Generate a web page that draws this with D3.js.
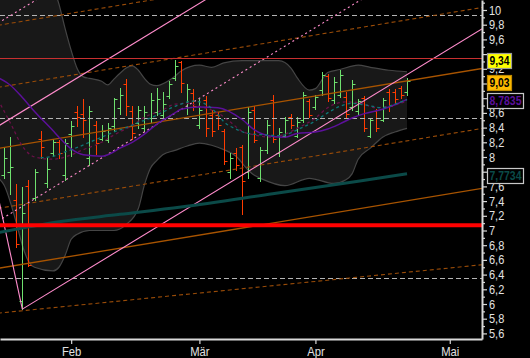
<!DOCTYPE html>
<html><head><meta charset="utf-8">
<script src="https://cdn.jsdelivr.net/npm/d3@7"></script>
<style>body{margin:0;background:#000}svg{display:block}</style>
</head><body>
<svg id="c" width="530" height="358"></svg>
<script>
// ---- OHLC data (trading-day index 0..66) ----
const opens  = [7.75,7.79,7.41,6.04,7.61,7.44,8.25,7.64,8.05,8.21,7.75,8.31,8.61,8.58,7.98,8.43,8.25,8.23,8.42,8.66,8.99,8.62,8.46,8.39,8.53,8.61,8.57,8.83,9.07,9.29,8.66,8.87,8.43,8.77,8.57,8.57,8.36,7.79,8.06,8.13,7.79,8.64,7.71,8.09,8.77,8.06,8.29,8.55,8.29,8.50,8.76,8.68,8.91,9.10,8.77,8.85,8.81,8.68,8.62,8.80,8.29,8.62,8.51,8.88,8.89,8.94,8.88];
const highs  = [8.12,8.27,7.63,7.59,7.69,7.83,8.35,7.98,8.25,8.23,8.25,8.49,8.69,8.79,8.69,8.49,8.43,8.46,8.80,8.94,9.06,8.70,8.69,8.70,8.87,8.94,8.88,9.03,9.32,9.30,8.99,8.92,8.79,8.83,8.64,8.61,8.38,8.05,8.12,8.17,8.68,8.70,8.13,8.50,8.84,8.39,8.54,8.58,8.54,8.88,8.79,8.85,9.15,9.13,9.09,9.18,8.88,9.05,8.79,8.83,8.53,8.65,8.80,8.92,8.92,8.96,9.07];
const lows   = [7.71,7.50,6.78,5.93,6.52,7.41,7.99,7.59,8.01,7.99,7.69,8.01,8.42,8.27,7.89,8.04,8.23,8.20,8.36,8.59,8.57,8.25,8.40,8.35,8.47,8.57,8.53,8.80,9.05,8.89,8.59,8.64,8.39,8.29,8.29,8.38,7.91,7.72,7.82,7.23,7.71,8.20,7.68,8.05,8.20,8.02,8.27,8.39,8.27,8.47,8.54,8.65,8.85,8.76,8.73,8.81,8.54,8.64,8.59,8.36,8.27,8.36,8.49,8.62,8.74,8.80,8.85];
const closes = [7.98,7.86,6.82,7.24,6.53,7.79,8.14,7.83,8.20,8.06,8.19,8.42,8.55,8.51,8.62,8.19,8.36,8.39,8.79,8.85,8.70,8.32,8.64,8.61,8.77,8.79,8.72,8.99,9.24,9.00,8.92,8.70,8.64,8.39,8.36,8.43,7.95,7.98,7.89,7.68,8.61,8.23,8.09,8.43,8.25,8.34,8.50,8.43,8.47,8.84,8.57,8.81,9.11,8.80,9.02,9.11,8.59,8.99,8.76,8.40,8.50,8.40,8.77,8.69,8.79,8.84,9.03];

// ---- Bollinger-type band (day index, value) ----
const upperIdx = [-1,2,5,7,9,10,11,12,13,14,16,17,18,19,20,21,22,23,24,25,27,28,29,32,34,36,39,45,47,48,50,51,53,55,58,60,63,66];
const upperVal = [11.2,11.2,10.9,10.5,10.08,9.75,9.45,9.20,9.09,9.07,9.03,8.98,9.06,9.14,9.21,9.24,9.18,9.07,8.99,8.97,9.04,9.10,9.17,9.25,9.22,9.28,9.31,9.31,9.21,9.08,8.91,8.93,9.15,9.19,9.25,9.22,9.18,9.16];
const lowerIdx = [-1,0,2,3,4,5,8,9,10,11,12,14,18,20,22,23,24,25,26,28,30,32,34,36,38,40,41,42,46,50,54,56,57,58,60,62,64,66];
const lowerVal = [7.72,7.62,7.11,6.80,6.58,6.50,6.45,6.50,6.66,6.88,6.95,7.00,7.00,7.08,7.30,7.62,7.85,7.95,8.03,8.09,8.15,8.19,8.16,8.10,8.01,7.82,7.75,7.71,7.61,7.71,7.64,7.69,7.77,7.97,8.12,8.27,8.34,8.39];

// ---- moving averages ----
const purpleIdx = [-1,1,3,5,8,9,11,13,16,17,19,21,23,24,26,28,29,32,35,39,41,44,46,48,51,53,55,57,59,62,64,66];
const purpleVal = [9.08,8.98,8.81,8.62,8.36,8.27,8.11,8.03,8.01,8.03,8.12,8.20,8.31,8.38,8.50,8.60,8.65,8.68,8.67,8.51,8.37,8.28,8.27,8.32,8.34,8.38,8.45,8.53,8.59,8.65,8.71,8.7835];
const tealIdx = [6,8,10,12,14,16,18,20,22,24,26,28,29,31,33,35,36,38,40,43,45,47,48,51,53,55,57,59,62,64,66];
const tealVal = [7.99,8.01,8.07,8.13,8.20,8.27,8.34,8.40,8.47,8.53,8.61,8.69,8.72,8.76,8.72,8.58,8.48,8.38,8.32,8.30,8.29,8.33,8.37,8.49,8.60,8.69,8.73,8.71,8.67,8.72,8.78];
const maroonIdx = [-1,1,3,5,8,10,13,16,18,21,23,26,28,30,32,35,37,39,41,44,46,48,51,53,56,58,61,63,66];
const maroonVal = [8.78,8.47,8.15,8.00,7.97,8.00,8.10,8.20,8.30,8.43,8.54,8.64,8.72,8.73,8.69,8.60,8.48,8.35,8.30,8.27,8.31,8.39,8.53,8.67,8.75,8.74,8.67,8.69,8.76];
const longIdx = [-1,9,19,29,44,58,66];
const longVal = [6.97,7.12,7.22,7.32,7.50,7.67,7.7734];

// ---- drawn lines: [startIdx, startVal, endIdx, endVal] ----
const pinkSolid  = [[3,5.93,79,9.781],[-1,8.418,40,10.495],[-3,8.25,3,5.93]];
const pinkDashed = [[-1,7.126,79,11.18],[-1,9.82,10,10.377]];
const brownSolid = [[-1,8.117,79,9.214],[-1,6.485,79,7.582]];
const brownDashed= [[-1,8.947,79,10.044],[-1,9.791,79,10.888],[-1,7.301,79,8.398],[-1,5.875,79,6.540]];
const grayLevels = [9.93,8.53,6.35];
const redThick = 7.07;
const redThin = 9.34;

// ---- axes ----
const yTicks = [5.6,5.8,6,6.2,6.4,6.6,6.8,7,7.2,7.4,7.6,7.8,8,8.2,8.4,8.6,8.8,9,9.2,9.4,9.6,9.8,10];
const yMinor = [5.7,5.9,6.1,6.3,6.5,6.7,6.9,7.1,7.3,7.5,7.7,7.9,8.1,8.3,8.5,8.7,8.9,9.1,9.3,9.5,9.7,9.9,10.1];
const monthIdx = [11,32,51,73];
const monthLabels = ["Feb","Mär","Apr","Mai"];

// ================= drawing =================
const W=530,H=358,PW=482,PH=339;
const svg=d3.select("#c");
svg.append("rect").attr("width",W).attr("height",H).attr("fill","#000");
const x=d3.scaleLinear().domain([-0.655,78.28]).range([0,PW]);
const y=d3.scaleLinear().domain([5.5238,10.136]).range([PH,0]);
svg.append("defs").append("clipPath").attr("id","clip").append("rect").attr("width",PW).attr("height",PH);
const plot=svg.append("g").attr("clip-path","url(#clip)");

const zip=(a,b)=>a.map((d,i)=>[d,b[i]]);
const up=zip(upperIdx,upperVal), lo=zip(lowerIdx,lowerVal);
const areaTo=d3.area().x(d=>x(d[0])).y0(PH).y1(d=>y(d[1])).curve(d3.curveMonotoneX);
const curve=d3.line().x(d=>x(d[0])).y(d=>y(d[1])).curve(d3.curveMonotoneX);
plot.append("path").attr("d",areaTo(up)).attr("fill","#181818");
plot.append("path").attr("d",areaTo(lo)).attr("fill","#000");
[up,lo].forEach(s=>plot.append("path").attr("d",curve(s)).attr("fill","none").attr("stroke","#454545").attr("stroke-width",1.2));

// bars
const bars=opens.map((o,i)=>({i,o,h:highs[i],l:lows[i],c:closes[i]}));
const px=i=>Math.round(x(i))+0.5, py=v=>Math.round(y(v))+0.5;
const bg=plot.append("g").selectAll("g").data(bars).join("g")
  .attr("stroke",d=>d.c>=d.o?"#6ee06e":"#ff3c00").attr("stroke-width",1);
bg.append("line").attr("x1",d=>px(d.i)).attr("x2",d=>px(d.i)).attr("y1",d=>Math.round(y(d.h))).attr("y2",d=>Math.round(y(d.l))+1);
bg.append("line").attr("x1",d=>px(d.i)-3).attr("x2",d=>px(d.i)).attr("y1",d=>py(d.o)).attr("y2",d=>py(d.o));
bg.append("line").attr("x1",d=>px(d.i)).attr("x2",d=>px(d.i)+3).attr("y1",d=>py(d.c)).attr("y2",d=>py(d.c));

// horizontal gray dashed
grayLevels.forEach(v=>plot.append("line").attr("x1",0).attr("x2",PW).attr("y1",py(v)).attr("y2",py(v))
  .attr("stroke","#b4b4b4").attr("stroke-dasharray","5,3"));

const seg=(arr,color,dash,w)=>arr.forEach(s=>plot.append("line")
  .attr("x1",x(s[0])).attr("y1",y(s[1])).attr("x2",x(s[2])).attr("y2",y(s[3]))
  .attr("stroke",color).attr("stroke-width",w).attr("stroke-dasharray",dash));
seg(brownDashed,"#9a4c08","4,3",1.1);
seg(brownSolid,"#a85400",null,1.3);
seg(pinkDashed,"#ff8ccc","2,3",1.1);
seg(pinkSolid,"#ff8ccc",null,1.1);

// moving averages
plot.append("path").attr("d",curve(zip(longIdx,longVal))).attr("fill","none").attr("stroke","#0b4a48").attr("stroke-width",3);
plot.append("path").attr("d",curve(zip(maroonIdx,maroonVal))).attr("fill","none").attr("stroke","#6a1048").attr("stroke-width",1.3).attr("stroke-dasharray","3,3");
plot.append("path").attr("d",curve(zip(purpleIdx,purpleVal))).attr("fill","none").attr("stroke","#5c109a").attr("stroke-width",1.5);
plot.append("path").attr("d",curve(zip(tealIdx,tealVal))).attr("fill","none").attr("stroke","#0f7575").attr("stroke-width",1.3).attr("stroke-dasharray","3,3");

// red lines
plot.append("line").attr("x1",0).attr("x2",PW).attr("y1",y(redThin)).attr("y2",y(redThin)).attr("stroke","#c83030").attr("stroke-width",1.2);
plot.append("line").attr("x1",0).attr("x2",PW).attr("y1",y(redThick)).attr("y2",y(redThick)).attr("stroke","#ff0000").attr("stroke-width",4);

// right-hand value markers (values)
const markers=[
  {v:redThin, fill:"#ffff00", stroke:"#9a9a9a", color:"#000"},
  {v:closes[closes.length-1], fill:"#ffbc00", stroke:"#c08a00", color:"#000"},
  {v:purpleVal[purpleVal.length-1], fill:"#000", stroke:"#c8c8c8", color:"#5c109a"},
  {v:longVal[longVal.length-1], fill:"#000", stroke:"#c8c8c8", color:"#0b4a48"}
];

// axes
const locale=d3.formatLocale({decimal:",",thousands:".",grouping:[3],currency:["","€"]});
const fmt=locale.format(".2~f");
// tick labels covered by a value marker are not shown (as in the reference)
const covered=t=>markers.some(m=>Math.abs(y(m.v)+1-y(t))<8);
const ya=svg.append("g").attr("transform",`translate(${PW},0)`)
  .call(d3.axisRight(y).tickValues(yTicks).tickSize(5).tickPadding(2).tickSizeOuter(0).tickFormat(t=>covered(t)?"":fmt(t)));
const ym=svg.append("g").attr("transform",`translate(${PW},0)`)
  .call(d3.axisRight(y).tickValues(yMinor).tickSize(3).tickSizeOuter(0).tickFormat(""));
ym.select(".domain").remove();
const xa=svg.append("g").attr("transform",`translate(0,${PH})`)
  .call(d3.axisBottom(x).tickValues(monthIdx).tickSize(5).tickPadding(3).tickSizeOuter(0).tickFormat((d,i)=>monthLabels[i]));
[ya,ym,xa].forEach(a=>{a.selectAll(".domain").attr("stroke","#d8d8d8").attr("stroke-width",2);
  a.selectAll(".tick line").attr("stroke","#d8d8d8").attr("stroke-width",1.2);
  a.selectAll("text").attr("fill","#e2e2e2").style("font-family","'Liberation Sans',Arial,sans-serif").style("font-size","12.5px");});
ya.selectAll("text").filter(function(){return d3.select(this).text()==="";}).remove();
ya.selectAll("text").each(function(){const t=d3.select(this);const x0=+t.attr("x");t.attr("x",0).attr("transform",`translate(${x0},0) scale(0.88,1)`);});
xa.selectAll("text").attr("transform","scale(0.9,1)");

markers.forEach(m=>{
  const txt=String(m.v).replace(".",",");
  const w=txt.length*6;
  const yc=y(m.v);
  svg.append("rect").attr("x",487.5).attr("y",Math.round(yc-6)+0.5).attr("width",w).attr("height",15)
    .attr("fill",m.fill).attr("stroke",m.stroke).attr("stroke-width",1.2);
  svg.append("text").attr("x",489.5).attr("y",Math.round(yc)+6).text(txt)
    .attr("fill",m.color).attr("textLength",w-4).attr("lengthAdjust","spacingAndGlyphs")
    .style("font-family","'Liberation Sans',Arial,sans-serif").style("font-size","12px").style("font-weight","bold");
});
</script>
</body></html>
